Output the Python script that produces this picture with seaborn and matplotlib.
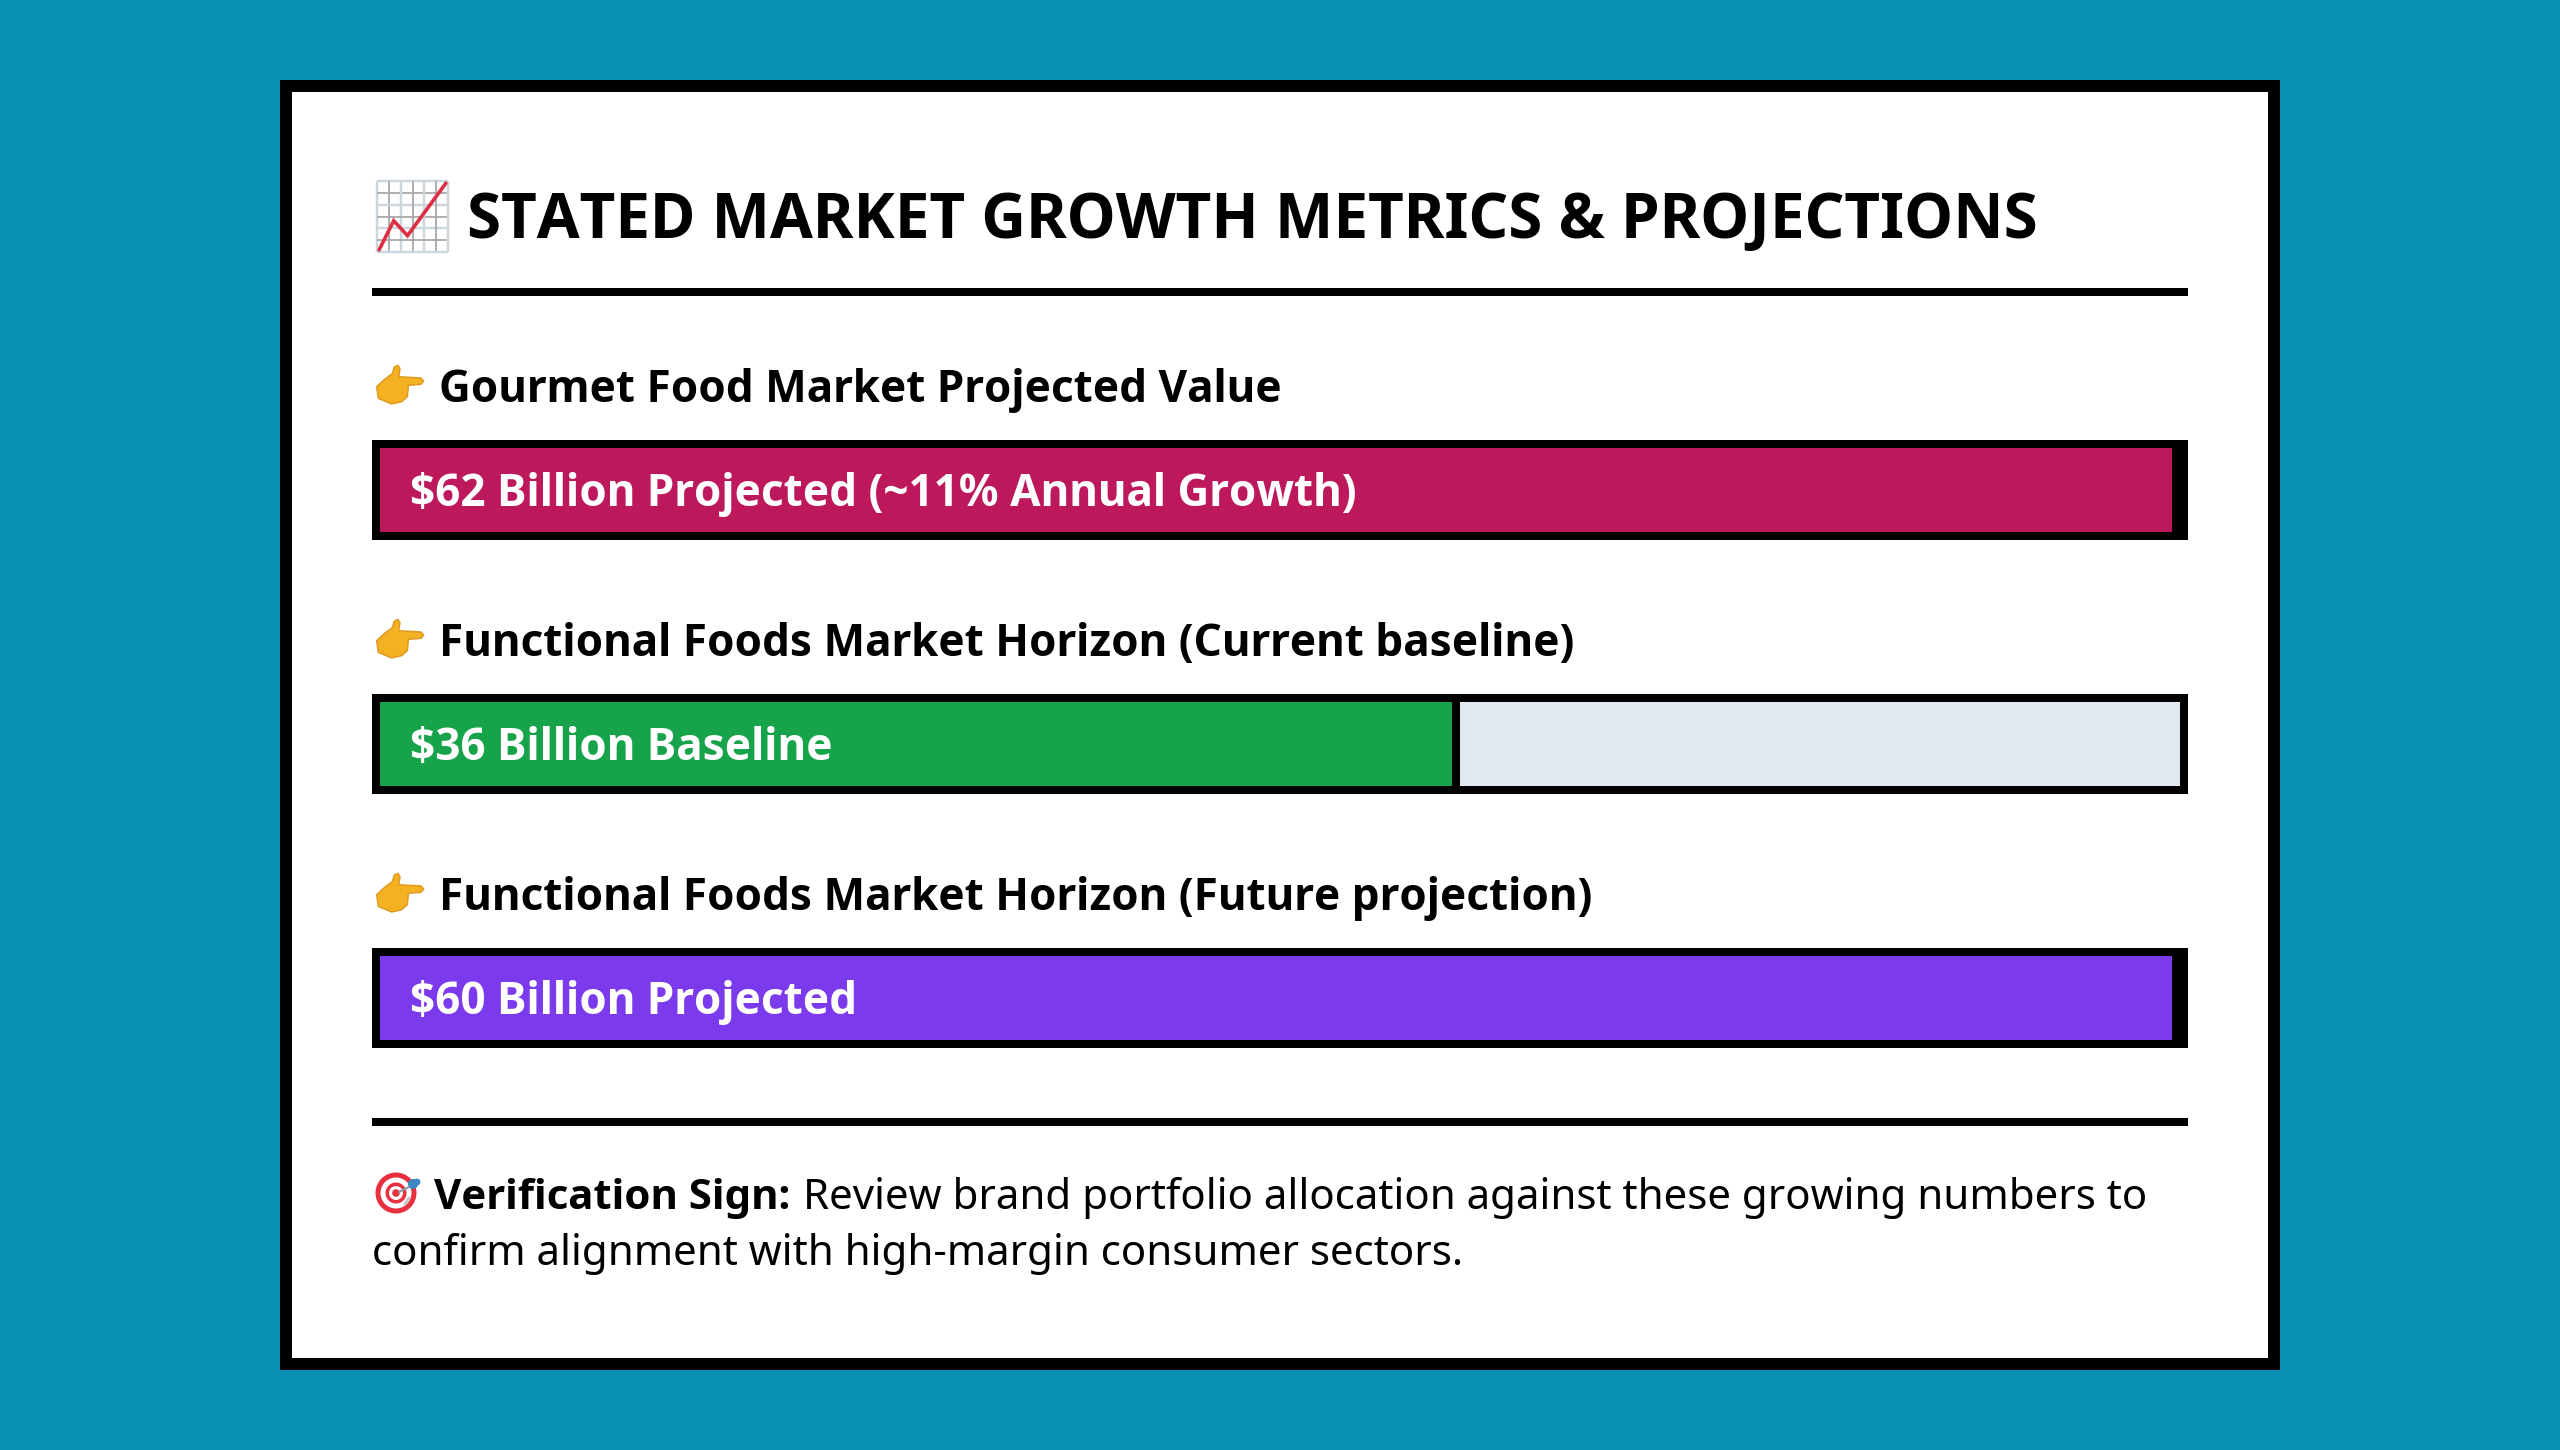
import numpy as np
import pandas as pd
import matplotlib
matplotlib.use("Agg")
import matplotlib.pyplot as plt
from matplotlib import font_manager as fm
from matplotlib.patches import Rectangle, Circle, PathPatch
from matplotlib.path import Path
import seaborn as sns
from fontTools.ttLib import TTFont
from fontTools.varLib import instancer

# Chart content
title = "STATED MARKET GROWTH METRICS & PROJECTIONS"
metric_names = [
    "Gourmet Food Market Projected Value",
    "Functional Foods Market Horizon (Current baseline)",
    "Functional Foods Market Horizon (Future projection)",
]
bar_labels = [
    "$62 Billion Projected (~11% Annual Growth)",
    "$36 Billion Baseline",
    "$60 Billion Projected",
]
market_values = [62, 36, 60]
scale_ceilings = [62, 60, 60]
bar_colors = ["#be185d", "#16a34a", "#7c3aed"]
footer_bold = "Verification Sign:"
footer_line1 = "Review brand portfolio allocation against these growing numbers to"
footer_line2 = "confirm alignment with high-margin consumer sectors."

BG = "#0891b2"
TRACK = "#e2e8f0"
W, H, DPI = 2560, 1450, 100


def pt(px):
    return px * 72 / DPI


sns.set_theme(style="white")
plt.rcParams["font.family"] = ["Noto Sans", "DejaVu Sans"]


def bold_font():
    """Noto Sans ships as a variable font, so cut a static bold instance from it."""
    try:
        source = TTFont(fm.findfont("Noto Sans"))
        axes = {a.axisTag: a.defaultValue for a in source["fvar"].axes}
        axes["wght"] = 700
        instancer.instantiateVariableFont(source, axes, inplace=True)
        source.save("NotoSans-Bold-static.ttf")
        return {"fontproperties": fm.FontProperties(fname="NotoSans-Bold-static.ttf")}
    except Exception:
        return {"family": "Open Sans", "fontweight": "bold"}


BOLD = bold_font()


def bold_text(ax, x, y, s, px, color):
    t = ax.text(x, y, s, color=color, va="baseline", **BOLD)
    t.set_fontsize(pt(px))
    return t


fig = plt.figure(figsize=(W / DPI, H / DPI), dpi=DPI, facecolor=BG)

# Layer with pixel coordinates for the card, the rules and all the text
page = fig.add_axes([0, 0, 1, 1], zorder=0)
page.set_xlim(0, W)
page.set_ylim(H, 0)
page.axis("off")
top = fig.add_axes([0, 0, 1, 1], zorder=3)
top.set_xlim(0, W)
top.set_ylim(H, 0)
top.axis("off")
top.patch.set_alpha(0)


def box(ax, x0, y0, x1, y1, color, **kw):
    ax.add_patch(Rectangle((x0, y0), x1 - x0, y1 - y0, facecolor=color, edgecolor="none", **kw))


box(page, 280, 80, 2280, 1370, "black")
box(page, 292, 92, 2268, 1358, "white")
box(page, 372, 288, 2188, 296, "black")
box(page, 372, 1118, 2188, 1126, "black")

row_tops = [440, 694, 948]
for y in row_tops:
    box(page, 372, y, 2188, y + 100, "black")

# Progress bars: share of each row's scale, drawn on a common 0-100 axis
track_left, track_right = 380, 2180
row_pitch = row_tops[1] - row_tops[0]
centers = [y + 50 for y in row_tops]
bars_top = centers[0] - row_pitch / 2
bars_bottom = centers[2] + row_pitch / 2
bars = fig.add_axes(
    [track_left / W, 1 - bars_bottom / H, (track_right - track_left) / W, (bars_bottom - bars_top) / H],
    zorder=1,
)
bars.patch.set_alpha(0)

shares = 100 * np.array(market_values) / np.array(scale_ceilings)
divider = 100 * 8 / (track_right - track_left)
frame = pd.DataFrame({"metric": metric_names, "share": shares, "track": 100.0, "fill": shares - divider})
bar_width = 84 / row_pitch
flat = dict(saturation=1, width=bar_width, linewidth=0, edgecolor="none", ax=bars)
sns.barplot(data=frame, y="metric", x="track", color=TRACK, **flat)
sns.barplot(data=frame, y="metric", x="share", color="black", **flat)
sns.barplot(data=frame, y="metric", x="fill", hue="metric", palette=bar_colors, legend=False, **flat)
bars.set_xlim(0, 100)
bars.set_ylim(2.5, -0.5)
bars.axis("off")

# Text
bold_text(top, 467, 238, title, 62, "black")
for y, name, label in zip(row_tops, metric_names, bar_labels):
    bold_text(top, 439, y - 38, name, 44, "black")
    bold_text(top, 410, y + 66, label, 44, "white")

bold_text(top, 434, 1209, footer_bold, 42, "black")
top.text(803, 1209, footer_line1, fontsize=pt(42), color="black", va="baseline")
top.text(372, 1265, footer_line2, fontsize=pt(42), color="black", va="baseline")


# Small pictograms that sit in front of the headings
def chart_icon(ax, x0, y0, size):
    box(ax, x0, y0, x0 + size, y0 + size, "white")
    ticks = np.linspace(0, size, 7)
    for i, t in enumerate(ticks):
        col, lw = ("#ccd6dd", 2.4) if i % 2 == 0 else ("#a8a8a8", 1.8)
        ax.plot([x0 + t, x0 + t], [y0, y0 + size], color=col, lw=pt(lw), solid_capstyle="butt")
        ax.plot([x0, x0 + size], [y0 + t, y0 + t], color=col, lw=pt(lw), solid_capstyle="butt")
    line_x = np.array([0.03, 0.235, 0.43, 0.97])
    line_y = np.array([0.97, 0.56, 0.77, 0.03])
    ax.plot(x0 + line_x * size, y0 + line_y * size, color="#dd2e44", lw=pt(3.6),
            solid_capstyle="round", solid_joinstyle="miter")


hand_outline = [
    (35, 95), (60, 72), (82, 56), (88, 36), (99, 31), (105, 42), (101, 65),
    (168, 69), (176, 78), (168, 88), (130, 91), (129, 105), (127, 125),
    (110, 140), (80, 147), (40, 130),
]


def hand_icon(ax, x0, y0):
    pts = [(x0 + px / 3, y0 + py / 3) for px, py in hand_outline]
    codes = [Path.MOVETO] + [Path.LINETO] * (len(pts) - 1) + [Path.CLOSEPOLY]
    ax.add_patch(PathPatch(Path(pts + [pts[0]], codes), facecolor="#f4b122", edgecolor="#e09a20",
                           lw=pt(1.5), joinstyle="round"))


def target_icon(ax, cx, cy):
    for r, col in [(20.5, "#e8303f"), (15.5, "white"), (10.5, "#e8303f"), (7, "white"), (3.8, "#e8303f")]:
        ax.add_patch(Circle((cx, cy), r, facecolor=col, edgecolor="none"))
    ax.plot([cx + 3, cx + 13], [cy - 1, cy - 6], color="#8899a6", lw=pt(2.2))
    ax.add_patch(Circle((cx + 17, cy - 9), 5, facecolor="#3b88c3", edgecolor="none"))
    ax.add_patch(Circle((cx + 21, cy - 11), 3.4, facecolor="#3b88c3", edgecolor="none"))
    ax.plot([cx + 9, cx + 13], [cy + 11, cy + 5], color="#c8c8c8", lw=pt(3))


chart_icon(top, 377, 181, 71)
for y in row_tops:
    hand_icon(top, 365, y - 85)
target_icon(top, 396, 1193)

fig.savefig("out.png", dpi=DPI, facecolor=BG)
